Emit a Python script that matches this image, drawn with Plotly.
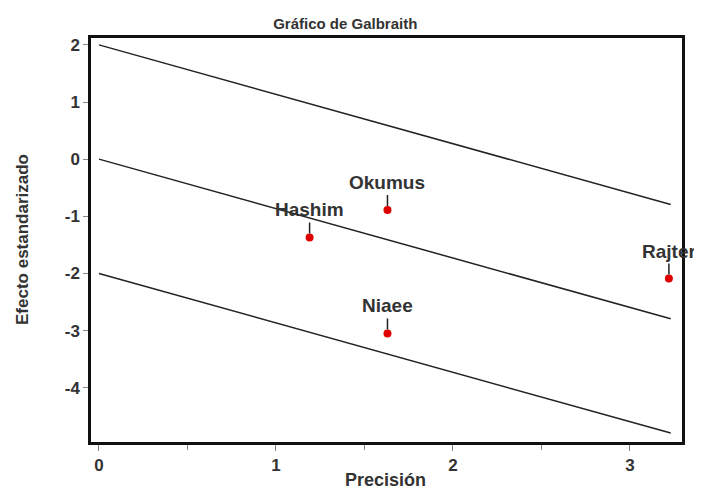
import plotly.graph_objects as go

# Galbraith plot data: precision (1/se) and standardized effect (z)
studies = ["Hashim", "Okumus", "Niaee", "Rajter"]
precision = [1.19, 1.63, 1.63, 3.22]
std_effect = [-1.37, -0.89, -3.05, -2.09]

# pooled slope and the +/-2 band limits
pooled_slope = -0.865
band_offsets = [2, 0, -2]
line_x = [0, 3.23]

x_ticks = [0, 1, 2, 3]
y_ticks = [2, 1, 0, -1, -2, -3, -4]

TXT = "#333333"
FONT = "Liberation Sans, Arial, sans-serif"

fig = go.Figure()

for off in band_offsets:
    fig.add_trace(go.Scatter(
        x=line_x,
        y=[off + pooled_slope * x for x in line_x],
        mode="lines",
        line=dict(color="#222222", width=1.5),
        hoverinfo="skip",
    ))

fig.add_trace(go.Scatter(
    x=precision, y=std_effect,
    mode="markers",
    marker=dict(color="#e00000", size=8),
    text=studies,
))

for name, px_, py_ in zip(studies, precision, std_effect):
    fig.add_annotation(
        x=px_, y=py_, text=name,
        showarrow=True, arrowhead=0, arrowwidth=1.5, arrowcolor="#222222",
        ax=0, ay=-15, standoff=4,
        font=dict(family=FONT, size=19, color=TXT, weight="bold"),
        yanchor="bottom",
    )

# axis titles as annotations so the margins stay fixed
fig.add_annotation(
    text="Precisión", xref="paper", yref="paper", x=0.499, y=0,
    yshift=-38, showarrow=False, yanchor="middle",
    font=dict(family=FONT, size=18, color=TXT, weight="bold"),
)
fig.add_annotation(
    text="Efecto estandarizado", xref="paper", yref="paper", x=0, y=0.5,
    xshift=-69, showarrow=False, textangle=-90, xanchor="center",
    font=dict(family=FONT, size=17, color=TXT, weight="bold"),
)

# the page adds ~8px of body margin, so the figure is sized to fit inside it
fig.update_layout(
    width=694, height=485,
    margin=dict(l=83, r=20, t=30, b=51),
    plot_bgcolor="white", paper_bgcolor="white",
    showlegend=False,
    font=dict(family=FONT, color=TXT),
    title=dict(text="Gráfico de Galbraith", x=0.486, xanchor="center",
               y=0.967, yanchor="middle",
               font=dict(size=15, color=TXT, weight="bold")),
)
fig.update_xaxes(
    range=[-0.045, 3.294], tickvals=x_ticks, showgrid=False, zeroline=False,
    automargin=False,
    showline=True, mirror=True, linecolor="#111111", linewidth=2.5,
    ticks="outside", ticklen=6, tickcolor="#888888",
    minor=dict(tickvals=[0.5, 1.5, 2.5], ticks="outside", ticklen=5, tickcolor="#888888"),
    tickfont=dict(size=17, color=TXT, weight="bold"),
)
fig.update_yaxes(
    range=[-4.95, 2.12], tickvals=y_ticks, ticktext=[str(v) for v in y_ticks],
    showgrid=False, zeroline=False, automargin=False,
    showline=True, mirror=True, linecolor="#111111", linewidth=2.5,
    ticks="outside", ticklen=5, tickcolor="#888888",
    tickfont=dict(size=17, color=TXT, weight="bold"),
)

fig.write_html("out.html")
